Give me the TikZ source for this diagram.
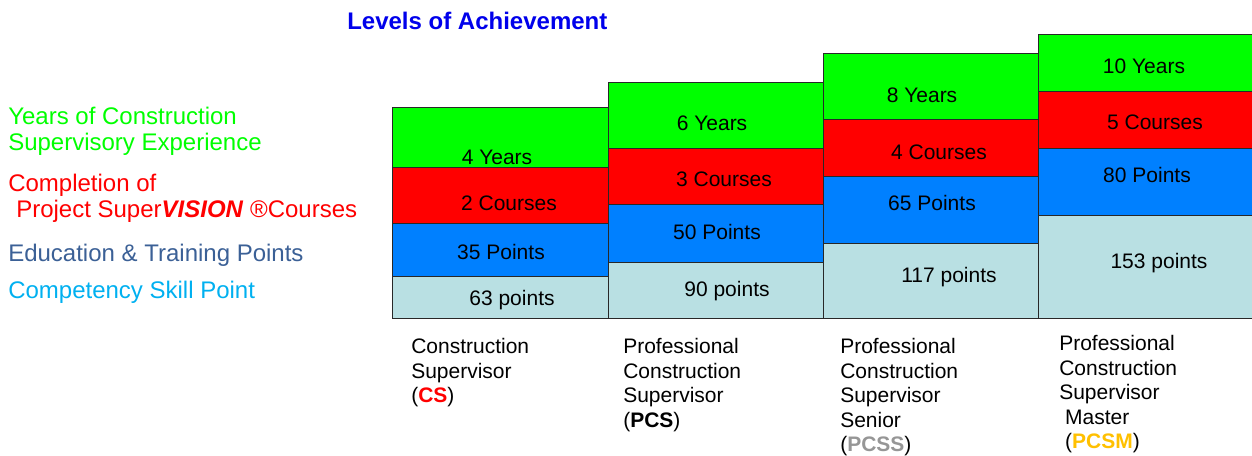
\documentclass[tikz,border=0pt]{standalone}
\usepackage{fontspec}
\setmainfont{Liberation Sans}
\usetikzlibrary{positioning}

\definecolor{yrsgreen}{RGB}{0,255,0}
\definecolor{crsred}{RGB}{255,0,0}
\definecolor{ptsblue}{RGB}{0,128,255}
\definecolor{sklteal}{RGB}{185,224,227}
\definecolor{edublue}{RGB}{59,96,150}
\definecolor{sklcyan}{RGB}{0,176,240}
\definecolor{titleblue}{RGB}{0,0,235}
\definecolor{pcssgray}{RGB}{150,150,150}
\definecolor{pcsmgold}{RGB}{255,192,0}
\definecolor{edgegray}{RGB}{40,40,40}

\begin{document}
\begin{tikzpicture}[
    x=0.75pt, y=-0.75pt,
    cell/.style={draw=edgegray, line width=0.75pt},
    val/.style={anchor=base, inner sep=0pt, font=\fontsize{15.75}{19}\selectfont},
    key/.style={anchor=base west, inner sep=0pt, font=\fontsize{18}{22}\selectfont},
    rank/.style={anchor=north west, inner sep=0pt, align=left, font=\fontsize{15.75}{18.4}\selectfont}
]
\useasboundingbox (0,0) rectangle (1252,455);

% Title
\node[key, font=\fontsize{18}{22}\selectfont\bfseries, text=titleblue] (title) at (347,29.6) {Levels of Achievement};

% Legend
\node[key, text=yrsgreen] (key-yrs1) at (8,124.6) {Years of Construction};
\node[key, text=yrsgreen] (key-yrs2) at (8,150.6) {Supervisory Experience};
\node[key, text=crsred] (key-crs1) at (8,191.6) {Completion of};
\node[key, text=crsred] (key-crs2) at (16,217.6) {Project Super\textbf{\textit{VISION}} ®Courses};
\node[key, text=edublue] (key-edu) at (8,261.6) {Education \& Training Points};
\node[key, text=sklcyan] (key-skl) at (8,298.6) {Competency Skill Point};

% Steps: CS
\draw[cell, fill=yrsgreen] (392,107) rectangle (608,167);
\draw[cell, fill=crsred]   (392,167) rectangle (608,223);
\draw[cell, fill=ptsblue]  (392,223) rectangle (608,276);
\draw[cell, fill=sklteal]  (392,276) rectangle (608,318);
\node[val] (cs-yrs) at (497,164.5) {4 Years};
\node[val] (cs-crs) at (509,210.5) {2 Courses};
\node[val] (cs-edu) at (501,259.5) {35 Points};
\node[val] (cs-skl) at (512,305.5) {63 points};

% Steps: PCS
\draw[cell, fill=yrsgreen] (608,82) rectangle (823,148);
\draw[cell, fill=crsred]   (608,148) rectangle (823,204);
\draw[cell, fill=ptsblue]  (608,204) rectangle (823,262);
\draw[cell, fill=sklteal]  (608,262) rectangle (823,318);
\node[val] (pcs-yrs) at (712,130.5) {6 Years};
\node[val] (pcs-crs) at (724,186.5) {3 Courses};
\node[val] (pcs-edu) at (717,239.5) {50 Points};
\node[val] (pcs-skl) at (727,296.5) {90 points};

% Steps: PCSS
\draw[cell, fill=yrsgreen] (823,53) rectangle (1038,119);
\draw[cell, fill=crsred]   (823,119) rectangle (1038,176);
\draw[cell, fill=ptsblue]  (823,176) rectangle (1038,243);
\draw[cell, fill=sklteal]  (823,243) rectangle (1038,318);
\node[val] (pcss-yrs) at (922,102.5) {8 Years};
\node[val] (pcss-crs) at (939,159.5) {4 Courses};
\node[val] (pcss-edu) at (932,210.5) {65 Points};
\node[val] (pcss-skl) at (949,282.5) {117 points};

% Steps: PCSM
\draw[cell, fill=yrsgreen] (1038,34) rectangle (1254,91);
\draw[cell, fill=crsred]   (1038,91) rectangle (1254,148);
\draw[cell, fill=ptsblue]  (1038,148) rectangle (1254,215);
\draw[cell, fill=sklteal]  (1038,215) rectangle (1254,318);
\node[val] (pcsm-yrs) at (1144,73.5) {10 Years};
\node[val] (pcsm-crs) at (1155,129.5) {5 Courses};
\node[val] (pcsm-edu) at (1147,182.5) {80 Points};
\node[val] (pcsm-skl) at (1159,268.5) {153 points};

% Titles under the steps
\node[rank] (cs-name) at (411,338) {Construction\\Supervisor\\(\textcolor{crsred}{\textbf{CS}})};
\node[rank] (pcs-name) at (623,338) {Professional\\Construction\\Supervisor\\(\textbf{PCS})};
\node[rank] (pcss-name) at (840,338) {Professional\\Construction\\Supervisor\\Senior\\(\textcolor{pcssgray}{\textbf{PCSS}})};
\node[rank] (pcsm-name) at (1059,335) {Professional\\Construction\\Supervisor\\\ Master\\\ (\textcolor{pcsmgold}{\textbf{PCSM}})};

\end{tikzpicture}
\end{document}
